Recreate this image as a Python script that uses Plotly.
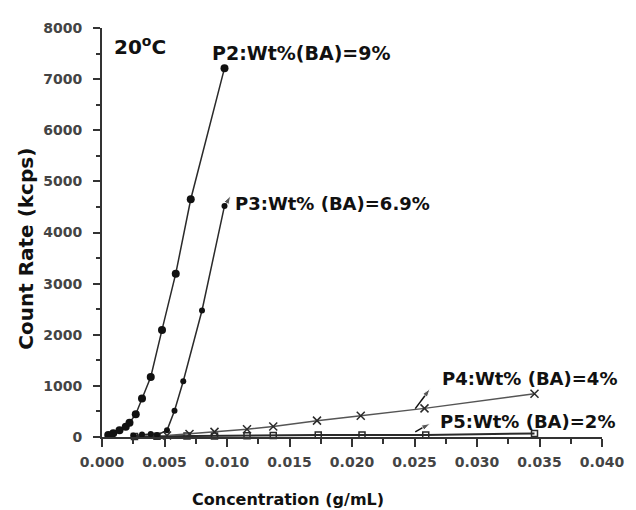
import plotly.graph_objects as go

# ---- data ----
p2_conc = [0.0005, 0.0009, 0.0014, 0.0019, 0.0022, 0.0027, 0.0032, 0.0039, 0.0048, 0.0059, 0.0071, 0.0098]
p2_rate = [40, 75, 130, 200, 280, 445, 755, 1175, 2095, 3195, 4650, 7215]

p3_conc = [0.0025, 0.0032, 0.0039, 0.0044, 0.0052, 0.0058, 0.0065, 0.0080, 0.0098]
p3_rate = [30, 50, 60, 40, 130, 515, 1090, 2475, 4520]

p4_conc = [0.0052, 0.0070, 0.0090, 0.0116, 0.0137, 0.0172, 0.0207, 0.0258, 0.0346]
p4_rate = [30, 60, 100, 150, 205, 320, 415, 560, 845]

p5_conc = [0.0026, 0.0044, 0.0068, 0.0090, 0.0116, 0.0137, 0.0173, 0.0208, 0.0259, 0.0346]
p5_rate = [10, 15, 20, 20, 25, 30, 40, 40, 40, 70]

series_labels = ["P2:Wt%(BA)=9%", "P3:Wt% (BA)=6.9%", "P4:Wt% (BA)=4%", "P5:Wt% (BA)=2%"]
temp_label = "20<sup>o</sup>C"
x_title = "Concentration (g/mL)"
y_title = "Count Rate (kcps)"

# leader arrows from curve (tail) to label (head)
leader_conc = [[0.00985, 0.01030], [0.02506, 0.02625], [0.02506, 0.02625]]
leader_rate = [[4525, 4720], [555, 945], [100, 265]]

LINE = "#2a2a2a"
fig = go.Figure()
fig.add_trace(go.Scatter(x=p5_conc, y=p5_rate, mode="lines+markers",
                         line=dict(color=LINE, width=2),
                         marker=dict(symbol="square-open", size=6, color=LINE, line=dict(width=1.5)),
                         cliponaxis=False))
fig.add_trace(go.Scatter(x=p4_conc, y=p4_rate, mode="lines+markers",
                         line=dict(color="#555555", width=1.5),
                         marker=dict(symbol="x-thin", size=8, color=LINE, line=dict(width=1.5, color=LINE)),
                         cliponaxis=False))
fig.add_trace(go.Scatter(x=p3_conc, y=p3_rate, mode="lines+markers",
                         line=dict(color=LINE, width=1.5),
                         marker=dict(symbol="circle", size=6, color="#111111"),
                         cliponaxis=False))
fig.add_trace(go.Scatter(x=p2_conc, y=p2_rate, mode="lines+markers",
                         line=dict(color=LINE, width=1.5),
                         marker=dict(symbol="circle", size=8, color="#111111"),
                         cliponaxis=False))
for lx, ly in zip(leader_conc, leader_rate):
    fig.add_trace(go.Scatter(x=lx, y=ly, mode="lines+markers",
                             line=dict(color="#111111", width=1.5),
                             marker=dict(symbol=["circle", "arrow"], size=[0, 9], color="#111111",
                                         angleref="previous"),
                             cliponaxis=False))

LBL = dict(family="DejaVu Sans", size=18, color="#111111", weight="bold")
ann = [
    dict(x=0.00078, y=7650, text=temp_label, showarrow=False, xanchor="left", yanchor="middle",
         font=dict(family="DejaVu Sans", size=20, color="#111111", weight="bold")),
    dict(x=0.00865, y=7520, text=series_labels[0], showarrow=False, xanchor="left", yanchor="middle",
         font=dict(family="DejaVu Sans", size=19, color="#111111", weight="bold")),
    dict(x=0.01050, y=4570, text=series_labels[1], showarrow=False, xanchor="left", yanchor="middle", font=LBL),
    dict(x=0.02705, y=1140, text=series_labels[2], showarrow=False, xanchor="left", yanchor="middle", font=LBL),
    dict(x=0.02690, y=305, text=series_labels[3], showarrow=False, xanchor="left", yanchor="middle", font=LBL),
]
# axis titles
ann.append(dict(xref="paper", yref="paper", x=-0.151, y=0.459, text=y_title, textangle=-90,
                showarrow=False, xanchor="center", yanchor="middle",
                font=dict(family="DejaVu Sans", size=20, color="#111111", weight="bold")))
ann.append(dict(xref="paper", yref="paper", x=0.3725, y=-0.152, text=x_title,
                showarrow=False, xanchor="center", yanchor="middle",
                font=dict(family="DejaVu Sans", size=16, color="#111111", weight="bold")))

TICKFONT = dict(family="DejaVu Sans", size=14, color="#444444", weight="bold")
fig.update_layout(
    width=628, height=502,
    margin=dict(l=94, r=24, t=15, b=73),
    paper_bgcolor="white", plot_bgcolor="white",
    showlegend=False,
    annotations=ann,
    xaxis=dict(range=[0, 0.04], dtick=0.005, tickformat=".3f", showgrid=False, zeroline=False,
               showline=True, linecolor="#333333", linewidth=2,
               ticks="outside", ticklen=8, tickwidth=2, tickcolor="#333333",
               minor=dict(dtick=0.0025, ticks="outside", ticklen=5, tickwidth=1.5, tickcolor="#333333"),
               tickfont=TICKFONT, ticklabelstandoff=3),
    yaxis=dict(range=[0, 8000], dtick=1000, tickformat="d", showgrid=False, zeroline=False,
               showline=True, linecolor="#333333", linewidth=2,
               ticks="outside", ticklen=7, tickwidth=2, tickcolor="#333333",
               minor=dict(dtick=500, ticks="outside", ticklen=4, tickwidth=1.5, tickcolor="#333333"),
               tickfont=TICKFONT, ticklabelstandoff=8),
)

fig.write_html("out.html")
